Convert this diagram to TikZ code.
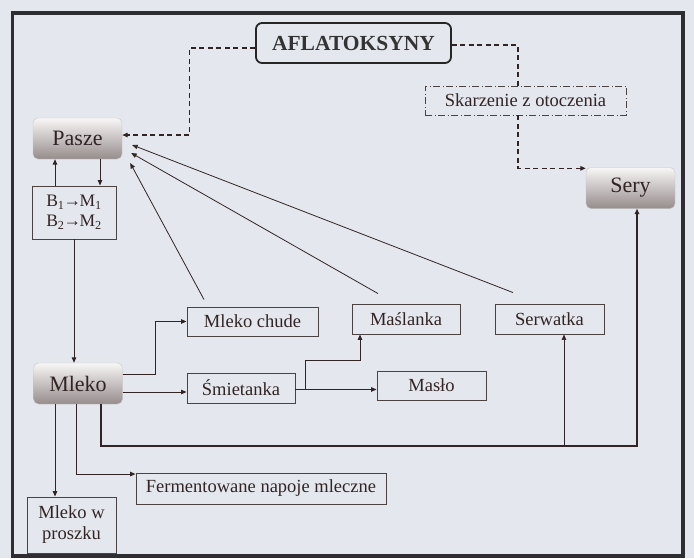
\documentclass[tikz,border=0pt]{standalone}
\usepackage{fontspec}
\setmainfont{Liberation Serif}
\usetikzlibrary{arrows.meta}
\definecolor{pagebg}{RGB}{228,232,238}
\definecolor{framecol}{RGB}{45,45,50}
\definecolor{inkcol}{RGB}{50,36,36}
\definecolor{boxline}{RGB}{75,66,66}
\definecolor{shadetop}{RGB}{248,246,246}
\definecolor{shadebot}{RGB}{150,140,140}
\begin{document}
\begin{tikzpicture}[x=1pt, y=-1pt,
    plainbox/.style={draw=boxline, line width=0.9pt, inner sep=0pt, text=inkcol,
      font=\fontsize{18.5}{21}\selectfont, align=center},
    shadebox/.style={draw=gray!45, rounded corners=5pt, top color=shadetop,
      bottom color=shadebot, inner sep=0pt, text=inkcol, minimum width=89pt,
      minimum height=41pt, font=\fontsize{22}{24}\selectfont},
    headbox/.style={draw=black!85, line width=1.8pt, rounded corners=6pt,
      minimum width=195pt, minimum height=40pt, text=black!80,
      font=\bfseries\fontsize{21.5}{24}\selectfont},
    envbox/.style={draw=boxline, line width=0.8pt,
      dash pattern=on 7pt off 2.5pt on 1pt off 2.5pt, text=inkcol,
      font=\fontsize{18.5}{21}\selectfont},
    tip/.style={-{Triangle[length=5.5pt,width=4.5pt]}},
    conn/.style={draw=inkcol, line width=1pt, tip},
    thinconn/.style={conn, line width=0.7pt},
    feed/.style={draw=inkcol, line width=0.8pt, tip},
    dashconn/.style={draw=inkcol, line width=1.3pt, dash pattern=on 5pt off 3.5pt},
    railconn/.style={draw=inkcol, line width=1.6pt, tip}
  ]
  \fill[pagebg] (0,0) rectangle (694,558);
  \useasboundingbox (0,0) rectangle (694,558);
  \draw[draw=framecol, line width=3.5pt] (12.5,13) rectangle (683,556);

  \node[headbox] (afla) at (353.5,43) {AFLATOKSYNY};
  \node[envbox, minimum width=201pt, minimum height=29pt] (skarz) at (525.5,100.5)
    {Skarzenie z otoczenia};

  \foreach \nm/\cx/\cy/\lbl in {pasze/77.5/138.5/Pasze, sery/630.5/188/Sery,
    mleko/78/383.5/Mleko}{
    \node[shadebox] (\nm) at (\cx,\cy) {\lbl};
  }

  \foreach \nm/\cx/\cy/\boxw/\boxh/\lbl in {%
    chude/252.5/321.5/131/29/Mleko chude,
    masl/406/319/108/30/Maślanka,
    serw/549.5/319/109/30/Serwatka,
    smiet/241/388/108/30/Śmietanka,
    maslo/431.5/385.5/109/29/Masło,
    ferm/261/488.5/250/31/Fermentowane napoje mleczne%
  }{
    \node[plainbox, minimum width=\boxw pt, minimum height=\boxh pt] (\nm) at (\cx,\cy) {\lbl};
  }
  \node[plainbox, minimum width=84pt, minimum height=53pt,
    font=\fontsize{17.5}{20}\selectfont] (conv) at (74,212.5)
    {B\textsubscript{1}\kern-1pt→\kern-1.5ptM\textsubscript{1}\\
     B\textsubscript{2}\kern-1pt→\kern-1.5ptM\textsubscript{2}};
  \node[plainbox, minimum width=89pt, minimum height=56pt] (proszek) at (71.5,525)
    {Mleko w\\proszku};

  \draw[dashconn, tip] ([yshift=-5pt]afla.west) -| ([xshift=67pt,yshift=3.5pt]pasze.east)
    -- ([yshift=3.5pt]pasze.east);
  \draw[dashconn] ([yshift=-2pt]afla.east) -| ([xshift=-7.5pt]skarz.north);
  \draw[dashconn, tip] ([xshift=-7.5pt]skarz.south) |- ([yshift=-1pt]sery.north west);

  \draw[conn] ([xshift=-19pt]conv.north) -- ([xshift=-19pt]conv.north |- pasze.south);
  \draw[conn] ([xshift=22.5pt]pasze.south) -- ([xshift=22.5pt]pasze.south |- conv.north);
  \draw[conn] (conv.south) -- (conv.south |- mleko.north);

  \foreach \src/\sx/\sy/\tx/\ty in {chude/-48.5/7/8/-24.5, masl/-28/10/9/-14.5,
    serw/-36.5/11/10/-6.5}{
    \draw[feed] ([xshift=\sx pt,yshift=\sy pt]\src.north)
      -- ([xshift=\tx pt,yshift=\ty pt]pasze.east);
  }

  \draw[conn] ([yshift=9.5pt]mleko.east) -- ++(33,0) |- (chude.west);
  \draw[conn] ([yshift=-8.5pt]mleko.east) -- ([yshift=-8.5pt]mleko.east -| smiet.west);
  \draw[conn] ([yshift=-1.5pt]smiet.east) -- ([yshift=-1.5pt]smiet.east -| maslo.west);
  \draw[conn] ([xshift=10pt,yshift=-1.5pt]smiet.east)
    |- ([xshift=-46pt,yshift=-26pt]masl.south) -- ([xshift=-46pt]masl.south);

  \coordinate (rail) at (0,446);
  \draw[railconn] ([xshift=23pt]mleko.south) |- ([xshift=6.5pt]sery.south |- rail)
    -- ([xshift=6.5pt]sery.south);
  \draw[thinconn] ([xshift=14.5pt]serw.south |- rail) -- ([xshift=14.5pt]serw.south);
  \draw[conn] ([xshift=-2pt]mleko.south) |- ([yshift=-1.5pt]ferm.north west);
  \draw[conn] ([xshift=-23pt]mleko.south) -- ([xshift=-23pt]mleko.south |- proszek.north);
\end{tikzpicture}
\end{document}
